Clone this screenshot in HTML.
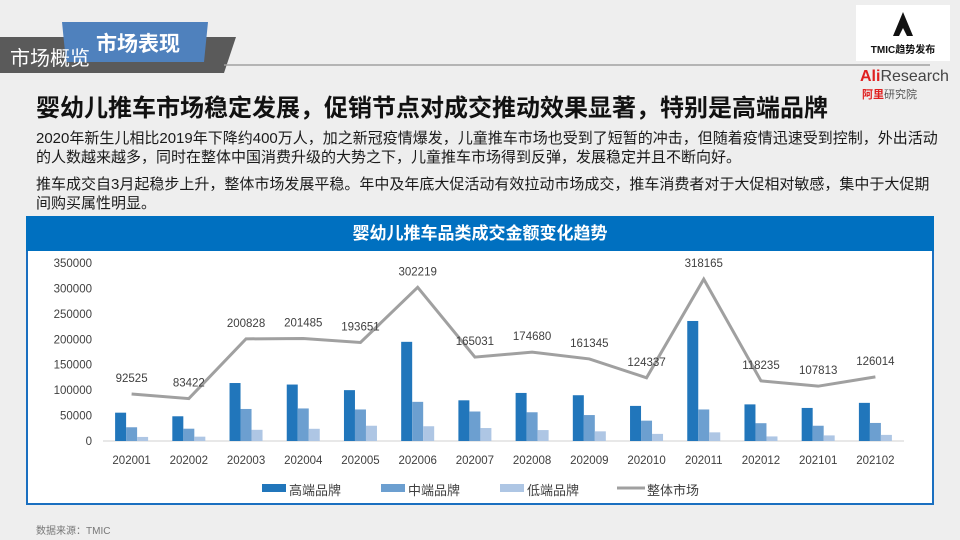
<!DOCTYPE html>
<html><head><meta charset="utf-8">
<style>
body{margin:0;width:960px;height:540px;overflow:hidden;background:#eeeeee;font-family:"Liberation Sans","Noto Sans CJK SC",sans-serif;position:relative}
.abs{position:absolute}
p{margin:0}
.para{left:36px;font-size:15px;line-height:19px;color:#1a1a1a;white-space:nowrap}
</style></head>
<body>
<svg class="abs" style="left:0;top:0" width="960" height="80">
  <polygon points="0,37 236,37 224,73 0,73" fill="#5a5a5a"/>
  <polygon points="62,22 208,22 204,62 66,62" fill="#4f81bd"/>
  <line x1="224" y1="65" x2="930" y2="65" stroke="#a0a0a0" stroke-width="1.5"/>
  <rect x="856" y="5" width="94" height="56" fill="#fff"/>
  <polygon points="903,12 893,36 899,36 903,28 907,36 913,36" fill="#111"/>
</svg>
<div class="abs" style="left:10px;top:42px;font-size:20px;color:#fff">市场概览</div>
<div class="abs" style="left:88px;top:28px;width:100px;text-align:center;font-size:21px;font-weight:bold;color:#fff">市场表现</div>
<div class="abs" style="left:858px;top:41px;width:90px;text-align:center;font-size:10px;font-weight:bold;color:#111">TMIC趋势发布</div>
<div class="abs" style="left:860px;top:68px;font-size:16px;color:#444"><span style="color:#e02020;font-weight:bold">Ali</span>Research</div>
<div class="abs" style="left:862px;top:86px;font-size:11px;color:#555"><span style="color:#e02020;font-weight:bold">阿里</span>研究院</div>
<div class="abs" style="left:36px;top:88px;font-size:24px;font-weight:bold;color:#111;white-space:nowrap">婴幼儿推车市场稳定发展，促销节点对成交推动效果显著，特别是高端品牌</div>
<div class="abs para" style="top:129px">2020年新生儿相比2019年下降约400万人，加之新冠疫情爆发，儿童推车市场也受到了短暂的冲击，但随着疫情迅速受到控制，外出活动<br>的人数越来越多，同时在整体中国消费升级的大势之下，儿童推车市场得到反弹，发展稳定并且不断向好。</div>
<div class="abs para" style="top:175px">推车成交自3月起稳步上升，整体市场发展平稳。年中及年底大促活动有效拉动市场成交，推车消费者对于大促相对敏感，集中于大促期<br>间购买属性明显。</div>
<div class="abs" style="left:26px;top:216px;width:904px;height:287px;background:#fff;border:2px solid #1a6fc0;border-top:none"></div>
<div class="abs" style="left:26px;top:216px;width:908px;height:35px;background:#0070c0;color:#fff;font-size:17px;font-weight:bold;text-align:center;line-height:35px">婴幼儿推车品类成交金额变化趋势</div>
<svg id="chart" class="abs" style="left:0;top:0" width="960" height="540"></svg>
<div class="abs" style="left:36px;top:522px;font-size:10px;color:#777">数据来源：TMIC</div>
<script>
const categories=["202001","202002","202003","202004","202005","202006","202007","202008","202009","202010","202011","202012","202101","202102"];
const highValues=[55700,48600,114000,111000,100000,195000,80000,94500,90000,69000,236000,72000,65000,75000];
const midValues=[27000,24200,63000,64000,62000,77000,58000,56500,51000,40000,62000,35000,30000,35500];
const lowValues=[8000,8500,22000,24000,30000,29000,25500,21500,19000,14000,17000,9000,11000,12000];
const totalValues=[92525,83422,200828,201485,193651,302219,165031,174680,161345,124337,318165,118235,107813,126014];
const yTicks=[0,50000,100000,150000,200000,250000,300000,350000];
const NS="http://www.w3.org/2000/svg";
const svg=document.getElementById('chart');
const x0=103,x1=904,yBase=441,yTop=263,yMax=350000;
const step=(x1-x0)/categories.length;
const xc=i=>x0+step*(i+0.5);
const y=v=>yBase-(v/yMax)*(yBase-yTop);
function mk(tag,attrs){const e=document.createElementNS(NS,tag);for(const k in attrs)e.setAttribute(k,attrs[k]);svg.appendChild(e);return e;}
yTicks.forEach(t=>{const e=mk('text',{x:92,y:y(t)+4,'text-anchor':'end','font-size':'11.5',fill:'#404040'});e.textContent=t;

});
const ax=mk('line',{x1:x0,y1:yBase,x2:x1,y2:yBase,stroke:'#d0d0d0','stroke-width':1});


const series=[[highValues,'#2176bb','bar-high'],[midValues,'#6c9fd0','bar-mid'],[lowValues,'#aec6e4','bar-low']];
const bw=11;
categories.forEach((c,i)=>{
  series.forEach((s,j)=>{const v=s[0][i];const r=mk('rect',{x:xc(i)-16.5+j*bw,y:y(v),width:bw,height:yBase-y(v),fill:s[1]});
  
  });
  const t=mk('text',{x:xc(i),y:464,'text-anchor':'middle','font-size':'11.5',fill:'#404040'});t.textContent=c;
  
  
});
const pl=mk('polyline',{points:totalValues.map((v,i)=>xc(i)+','+y(v)).join(' '),fill:'none',stroke:'#a0a0a0','stroke-width':3});


totalValues.forEach((v,i)=>{const t=mk('text',{x:xc(i),y:y(v)-12,'text-anchor':'middle','font-size':'11.5',fill:'#404040'});t.textContent=v;

});
const legend=[['高端品牌','#2176bb',262,'rect'],['中端品牌','#6c9fd0',381,'rect'],['低端品牌','#aec6e4',500,'rect'],['整体市场','#a0a0a0',617,'line']];
legend.forEach(l=>{
  let m;
  if(l[3]==='rect')m=mk('rect',{x:l[2],y:484,width:24,height:8,fill:l[1]});
  else m=mk('line',{x1:l[2],y1:488,x2:l[2]+28,y2:488,stroke:l[1],'stroke-width':3});
  
  
  const t=mk('text',{x:l[2]+(l[3]==='rect'?27:30),y:495,'font-size':'13',fill:'#404040'});t.textContent=l[0];
  
  
});
</script>
</body></html>
